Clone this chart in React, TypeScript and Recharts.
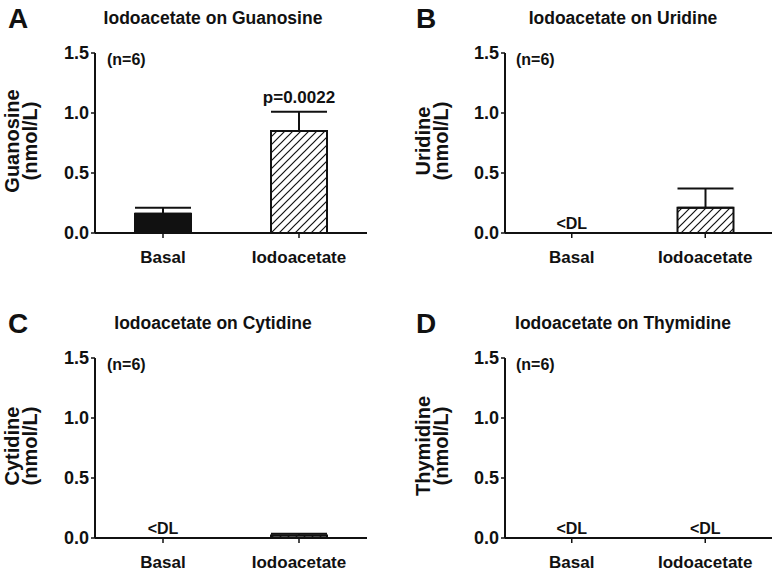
import { BarChart, Bar, XAxis, YAxis, ErrorBar, Cell, ReferenceDot } from "recharts";

// groups on the x axis
const groups = ["Basal", "Iodoacetate"];
const yTicks = [0, 0.5, 1.0, 1.5];

// mean and upper error (nmol/L)
const guanosineMean = [0.16, 0.85];
const guanosineErr = [0.05, 0.16];
const guanosineBelowDL = [false, false];

const uridineMean = [0, 0.21];
const uridineErr = [0, 0.16];
const uridineBelowDL = [true, false];

const cytidineMean = [0, 0.02];
const cytidineErr = [0, 0.015];
const cytidineBelowDL = [true, false];

const thymidineMean = [0, 0];
const thymidineErr = [0, 0];
const thymidineBelowDL = [true, true];

const font = "'Liberation Sans', Arial, sans-serif";
const ink = "#111";

interface PanelProps {
  id: string;
  mean: number[];
  err: number[];
  belowDL: boolean[];
  pLabel?: string;
  width: number;
  height: number;
  right: number;
  bottom: number;
}

const Panel = ({ id, mean, err, belowDL, pLabel, width, height, right, bottom }: PanelProps) => {
  const data = groups.map((g, i) => ({ group: g, mean: mean[i], err: [0, err[i]] }));
  const fills = [ink, `url(#hatch-${id})`];

  return (
    <BarChart
      width={width}
      height={height}
      data={data}
      margin={{ top: 53, right, bottom, left: 35 }}
    >
      <defs>
        <pattern id={`hatch-${id}`} patternUnits="userSpaceOnUse" width="8" height="8">
          <rect width="8" height="8" fill="#fff" />
          <path d="M-2,2 l4,-4 M0,8 l8,-8 M6,10 l4,-4" stroke={ink} strokeWidth="1.2" />
        </pattern>
      </defs>
      <XAxis
        dataKey="group"
        height={30}
        tickSize={5}
        tickMargin={13}
        axisLine={{ stroke: ink, strokeWidth: 2 }}
        tickLine={{ stroke: ink, strokeWidth: 1.5 }}
        tick={{ fontSize: 17, fontWeight: "bold", fill: ink, fontFamily: font }}
      />
      <YAxis
        width={60}
        domain={[0, 1.5]}
        ticks={yTicks}
        tickFormatter={(v: number) => v.toFixed(1)}
        tickSize={4}
        axisLine={{ stroke: ink, strokeWidth: 2 }}
        tickLine={{ stroke: ink, strokeWidth: 1.5 }}
        tick={{ fontSize: 18, fontWeight: "bold", fill: ink, fontFamily: font }}
      />
      <Bar dataKey="mean" barSize={56} stroke={ink} strokeWidth={2} isAnimationActive={false}>
        {data.map((d, i) => (
          <Cell key={d.group} fill={fills[i]} />
        ))}
        <ErrorBar dataKey="err" direction="y" width={28} stroke={ink} strokeWidth={2} />
      </Bar>
      {groups.map((g, i) =>
        belowDL[i] ? (
          <ReferenceDot
            key={`dl-${g}`}
            x={g}
            y={0}
            r={0}
            fill="none"
            stroke="none"
            label={{ value: "<DL", position: "top", offset: 4, fontSize: 16, fontWeight: "bold", fill: ink, fontFamily: font }}
          />
        ) : null
      )}
      {pLabel ? (
        <ReferenceDot
          x={groups[1]}
          y={mean[1] + err[1]}
          r={0}
          fill="none"
          stroke="none"
          label={{ value: pLabel, position: "top", offset: 9, fontSize: 17, fontWeight: "bold", fill: ink, fontFamily: font }}
        />
      ) : null}
    </BarChart>
  );
};

const panels = [
  { letter: "A", title: "Iodoacetate on Guanosine", name: "Guanosine", x: 0, y: 0 },
  { letter: "B", title: "Iodoacetate on Uridine", name: "Uridine", x: 410, y: 0 },
  { letter: "C", title: "Iodoacetate on Cytidine", name: "Cytidine", x: 0, y: 305 },
  { letter: "D", title: "Iodoacetate on Thymidine", name: "Thymidine", x: 410, y: 305 },
];

const App = () => {
  return (
    <div style={{ position: "absolute", left: 0, top: 0, width: 780, height: 575, background: "#fff", fontFamily: font }}>
      <div style={{ position: "absolute", left: 0, top: 0 }}>
        <Panel id="a" mean={guanosineMean} err={guanosineErr} belowDL={guanosineBelowDL} pLabel="p=0.0022" width={390} height={290} right={23} bottom={27} />
      </div>
      <div style={{ position: "absolute", left: 410, top: 0 }}>
        <Panel id="b" mean={uridineMean} err={uridineErr} belowDL={uridineBelowDL} width={370} height={290} right={8} bottom={27} />
      </div>
      <div style={{ position: "absolute", left: 0, top: 305 }}>
        <Panel id="c" mean={cytidineMean} err={cytidineErr} belowDL={cytidineBelowDL} width={390} height={270} right={23} bottom={7} />
      </div>
      <div style={{ position: "absolute", left: 410, top: 305 }}>
        <Panel id="d" mean={thymidineMean} err={thymidineErr} belowDL={thymidineBelowDL} width={370} height={270} right={8} bottom={7} />
      </div>

      {/* panel letters, titles, axis titles and n labels */}
      <svg width={780} height={575} style={{ position: "absolute", left: 0, top: 0, pointerEvents: "none" }}>
        {panels.map((p) => {
          const ox = p.x;
          const oy = p.y;
          const midY = oy + 141;
          const line1 = p.x === 0 ? 19 : 20;
          const line2 = p.x === 0 ? 37 : 38;
          return (
            <g key={p.letter} fontFamily={font} fontWeight="bold" fill={ink}>
              <text x={ox + (p.x === 0 ? 8 : 6)} y={oy + 28} fontSize={28}>{p.letter}</text>
              <text x={ox + 213} y={oy + 24} fontSize={17.5} textAnchor="middle">{p.title}</text>
              <text transform={`translate(${ox + line1}, ${midY}) rotate(-90)`} fontSize={20} textAnchor="middle">{p.name}</text>
              <text transform={`translate(${ox + line2}, ${midY}) rotate(-90)`} fontSize={20} textAnchor="middle">(nmol/L)</text>
              <text x={ox + (p.x === 0 ? 107 : 106)} y={oy + 65} fontSize={16}>(n=6)</text>
            </g>
          );
        })}
      </svg>
    </div>
  );
};

export default App;
